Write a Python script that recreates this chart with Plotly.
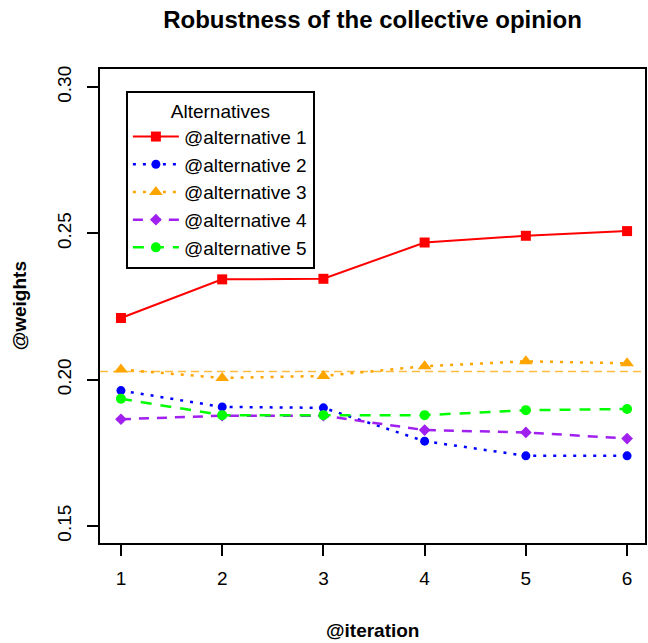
import plotly.graph_objects as go

iterations = [1, 2, 3, 4, 5, 6]
alt1 = [0.2211, 0.2343, 0.2345, 0.2469, 0.2492, 0.2508]
alt2 = [0.1963, 0.1907, 0.1904, 0.1790, 0.1740, 0.1740]
alt3 = [0.2035, 0.2006, 0.2013, 0.2046, 0.2063, 0.2056]
alt4 = [0.1865, 0.1877, 0.1877, 0.1828, 0.1820, 0.1799]
alt5 = [0.1935, 0.1879, 0.1879, 0.1879, 0.1896, 0.1900]
reference_level = 0.2028
y_ticks = [0.15, 0.20, 0.25, 0.30]
names = ["@alternative 1", "@alternative 2", "@alternative 3", "@alternative 4", "@alternative 5"]

FONT = "Liberation Sans, Arial, Helvetica, sans-serif"

series = [alt1, alt2, alt3, alt4, alt5]
colors = ["#FF0000", "#0000FF", "#FFA500", "#A020F0", "#00FF00"]
symbols = ["square", "circle", "triangle-up", "diamond", "circle"]
msizes = [10, 9, 12, 9, 10]
dashes = ["solid", "3px,7px", "3px,7px", "10px,8px", "11px,9px"]
widths = [2, 2.5, 2.5, 2.5, 2.5]

fig = go.Figure()
for vals, name, c, s, ms, d, w in zip(series, names, colors, symbols, msizes, dashes, widths):
    fig.add_trace(go.Scatter(
        x=iterations, y=vals, name=name, mode="lines+markers",
        line=dict(color=c, width=w, dash=d),
        marker=dict(color=c, symbol=s, size=ms, line=dict(width=0)),
    ))

fig.add_shape(type="line", xref="paper", x0=0, x1=1, yref="y",
              y0=reference_level, y1=reference_level,
              line=dict(color="rgba(255,165,0,0.75)", width=1.5, dash="8px,5px"))

fig.update_layout(
    width=648, height=643,
    margin=dict(l=100, r=1, t=69, b=100),
    paper_bgcolor="white", plot_bgcolor="white",
    font=dict(family=FONT, size=19, color="black"),
    title=dict(text="<b>Robustness of the collective opinion</b>",
               x=0.5, xref="paper", xanchor="center",
               y=1 - 20 / 643, yref="container", yanchor="middle",
               font=dict(family=FONT, size=24, color="black")),
    xaxis=dict(range=[0.793, 6.177], tickvals=iterations, ticktext=[str(i) for i in iterations],
               showgrid=False, zeroline=False, showline=True, mirror=True,
               linecolor="black", linewidth=2, ticks="outside", ticklen=11,
               tickwidth=1.5, tickcolor="black", ticklabelstandoff=6,
               tickfont=dict(size=19)),
    yaxis=dict(range=[0.1442, 0.3062], tickvals=y_ticks, tickformat=".2f",
               showgrid=False, zeroline=False, showline=True, mirror=True,
               linecolor="black", linewidth=2, ticks="outside", ticklen=11,
               tickwidth=1.5, tickcolor="black", tickangle=-90,
               ticklabelstandoff=8, tickfont=dict(size=19)),
    legend=dict(x=0.0475, y=0.9536, xanchor="left", yanchor="top",
                bgcolor="white", bordercolor="black", borderwidth=2,
                title=dict(text="Alternatives", side="top center", font=dict(size=19)),
                font=dict(size=19), itemwidth=46),
    showlegend=True,
)

fig.add_annotation(text="<b>@iteration</b>", xref="paper", x=0.5, yref="paper",
                   y=-(630 - 543) / 474, yanchor="middle", xanchor="center",
                   showarrow=False, font=dict(family=FONT, size=19))
fig.add_annotation(text="<b>@weights</b>", xref="paper", x=-(100 - 19) / 547,
                   xanchor="center", yref="paper", y=0.5, yanchor="middle",
                   textangle=-90, showarrow=False, font=dict(family=FONT, size=19))

fig.write_html("out.html")
